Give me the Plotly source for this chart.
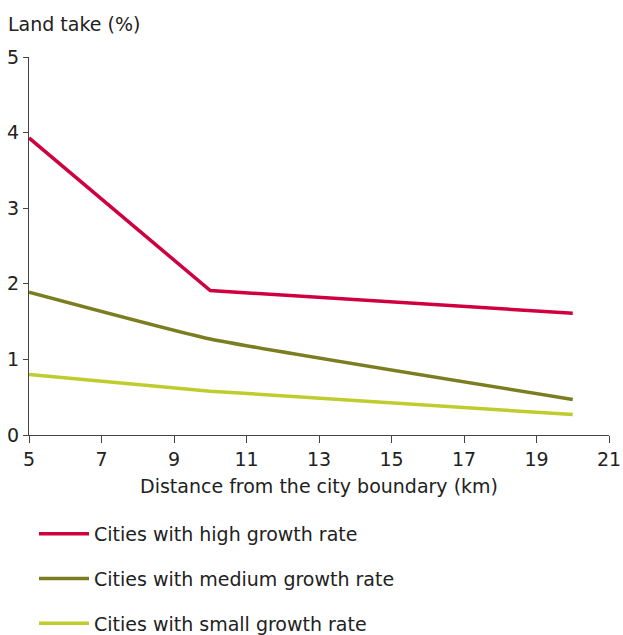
import plotly.graph_objects as go

distance_km = [5, 10, 20]
high_growth = [3.93, 1.91, 1.61]
medium_growth = [1.89, 1.27, 0.47]
small_growth = [0.80, 0.58, 0.27]

series_names = ["Cities with high growth rate",
                "Cities with medium growth rate",
                "Cities with small growth rate"]
series_values = [high_growth, medium_growth, small_growth]
colors = ["#CF0040", "#7A7D20", "#BFCC2E"]
shapes = ["linear", "spline", "spline"]

FONT = "DejaVu Sans"
FS = 19
W, H = 623, 635
L, R, T, B = 29, 14, 57, 200
PW, PH = W - L - R, H - T - B

fig = go.Figure()
for i, (name, vals) in enumerate(zip(series_names, series_values)):
    fig.add_trace(go.Scatter(
        x=distance_km, y=vals, mode="lines", name=name,
        line=dict(color=colors[i], width=3.5, shape=shapes[i], smoothing=0.4),
        legendgroup=f"g{i}",
    ))

fig.update_layout(
    width=W, height=H,
    margin=dict(l=L, r=R, t=T, b=B, autoexpand=False),
    paper_bgcolor="white", plot_bgcolor="white",
    font=dict(family=FONT, size=FS, color="#222222"),
    showlegend=True,
    legend=dict(
        x=34 / W, xref="container", xanchor="left",
        y=1 - 515 / H, yref="container", yanchor="top",
        tracegroupgap=17, font=dict(family=FONT, size=FS, color="#222222"),
        bgcolor="rgba(0,0,0,0)", itemwidth=50,
    ),
    xaxis=dict(
        range=[5, 21], tickvals=[5, 7, 9, 11, 13, 15, 17, 19, 21],
        showgrid=False, zeroline=False, showline=True, linecolor="#444444",
        linewidth=1.3, ticks="outside", ticklen=7, tickcolor="#444444",
        title=dict(text="Distance from the city boundary (km)", standoff=10,
                   font=dict(family=FONT, size=FS, color="#222222")),
        tickfont=dict(family=FONT, size=FS, color="#222222"),
    ),
    yaxis=dict(
        range=[0, 5], tickvals=[0, 1, 2, 3, 4, 5],
        showgrid=False, zeroline=False, showline=True, linecolor="#444444",
        linewidth=1.3, ticks="outside", ticklen=5, tickcolor="#444444",
        tickfont=dict(family=FONT, size=FS, color="#222222"),
    ),
    annotations=[dict(
        text="Land take (%)", xref="paper", yref="paper",
        x=(6 - L) / PW, y=1 + (T - 11) / PH, xanchor="left", yanchor="top",
        showarrow=False, font=dict(family=FONT, size=FS, color="#222222"),
    )],
)

fig.write_html(
    "out.html",
    config={"displayModeBar": False},
    post_script="document.body.style.margin='0';document.body.style.overflow='hidden';",
)
